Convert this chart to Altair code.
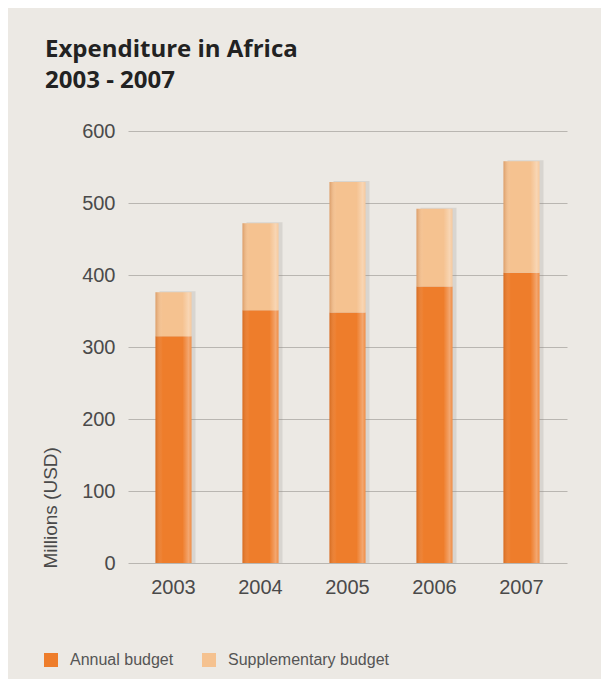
import altair as alt
import pandas as pd

years = ["2003", "2004", "2005", "2006", "2007"]
annual = [315, 351, 348, 384, 403]
supplementary = [61, 121, 181, 108, 155]
series = ["Annual budget", "Supplementary budget"]
colors = ["#ee7d2b", "#f5c290"]
y_ticks = [0, 100, 200, 300, 400, 500, 600]

rows = []
for y, a, s in zip(years, annual, supplementary):
    rows.append({"Year": y, "Type": series[0], "Value": a, "ord": 0})
    rows.append({"Year": y, "Type": series[1], "Value": s, "ord": 1})
long_df = pd.DataFrame(rows)
tot_df = pd.DataFrame({"Year": years, "Total": [a + s for a, s in zip(annual, supplementary)]})

xscale = alt.Scale(domain=years, paddingInner=0.586, paddingOuter=0.316)
yscale = alt.Scale(domain=[0, 600], nice=False)

x_axis = alt.Axis(title=None, labelAngle=0, labelFont="Liberation Sans",
                  labelFontSize=20, labelColor="#4a4a4a", labelPadding=14,
                  ticks=False, domain=False, grid=False)
y_axis = alt.Axis(values=y_ticks, title="Millions (USD)",
                  labelFont="Liberation Sans", labelFontSize=20, labelColor="#4a4a4a",
                  labelPadding=13, ticks=False, domain=False, grid=True,
                  gridColor="#b9b6b1", gridWidth=1.2,
                  titleFont="Liberation Sans", titleFontSize=19, titleFontWeight="normal",
                  titleColor="#4a4a4a", titleAngle=270, titleAlign="left",
                  titleBaseline="middle", titleX=-78, titleY=437)

shadow = alt.Chart(tot_df).mark_bar(color="#8a8680", opacity=0.2, xOffset=4, yOffset=-1).encode(
    x=alt.X("Year:N", scale=xscale, sort=years, axis=x_axis),
    y=alt.Y("Total:Q", scale=yscale, axis=y_axis),
    y2=alt.datum(0),
)

bars = alt.Chart(long_df).mark_bar().encode(
    x=alt.X("Year:N", scale=xscale, sort=years, axis=x_axis),
    y=alt.Y("sum(Value):Q", scale=yscale, stack="zero", axis=y_axis),
    color=alt.Color("Type:N", scale=alt.Scale(domain=series, range=colors),
                    legend=alt.Legend(title=None, orient="none", direction="horizontal",
                                      legendX=-85, legendY=521, symbolType="square",
                                      symbolSize=196, symbolStrokeWidth=0, labelOffset=11,
                                      labelFont="Liberation Sans", labelFontSize=16,
                                      labelLimit=400,
                                      labelColor="#555555", columnPadding=27)),
    order=alt.Order("ord:Q", sort="ascending"),
)

shade = alt.Chart(tot_df).mark_bar(
    color=alt.Gradient(
        gradient="linear", x1=0, x2=1, y1=0, y2=0,
        stops=[
            alt.GradientStop(offset=0, color="rgba(150,60,0,0.28)"),
            alt.GradientStop(offset=0.2, color="rgba(255,255,255,0)"),
            alt.GradientStop(offset=0.75, color="rgba(255,255,255,0)"),
            alt.GradientStop(offset=0.92, color="rgba(255,255,255,0.32)"),
            alt.GradientStop(offset=1, color="rgba(255,255,255,0.12)"),
        ],
    )
).encode(
    x=alt.X("Year:N", scale=xscale, sort=years, axis=x_axis),
    y=alt.Y("Total:Q", scale=yscale, axis=y_axis),
    y2=alt.datum(0),
)

chart = alt.layer(shadow, bars, shade).properties(
    width=439,
    height=432,
    background="#ece9e4",
    autosize=alt.AutoSizeParams(type="none"),
    padding={"left": 120, "top": 123, "right": 34, "bottom": 116},
    title=alt.Title(
        text=["Expenditure in Africa", "2003 - 2007"],
        anchor="start", frame="group", font="Open Sans", fontSize=24,
        fontWeight="bold", color="#222222", dx=-83, dy=-5, lineHeight=31,
        baseline="alphabetic",
    ),
).configure_view(stroke=None)

chart.save("out.html", embed_options={"renderer": "svg", "actions": False})
